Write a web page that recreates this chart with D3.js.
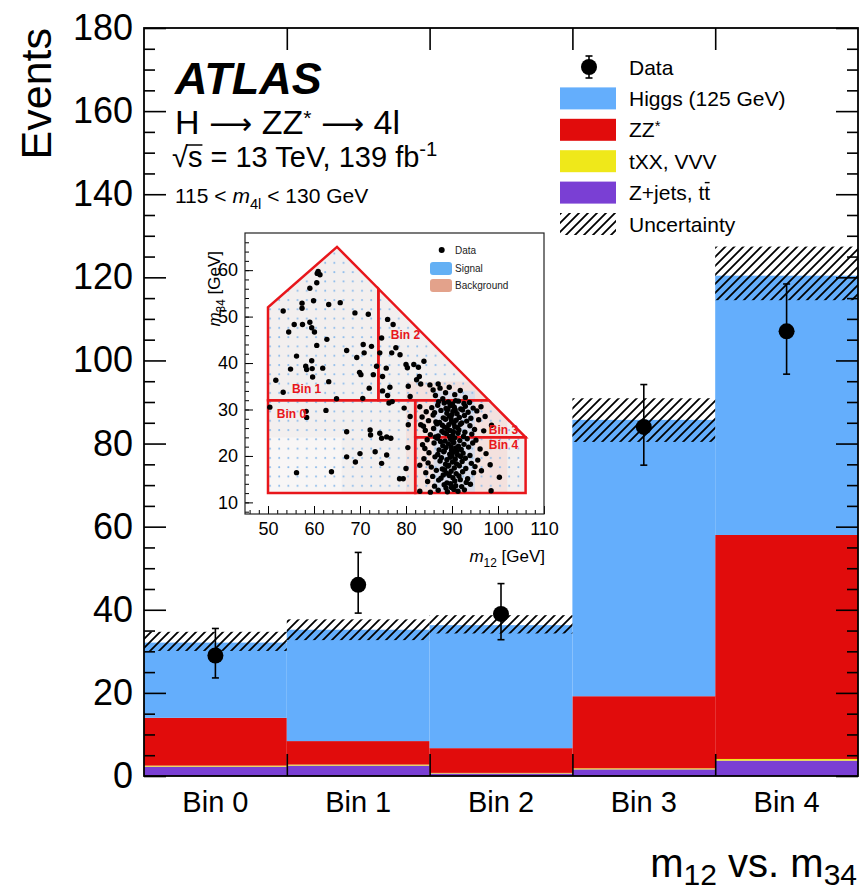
<!DOCTYPE html>
<html>
<head>
<meta charset="utf-8">
<script src="https://cdn.jsdelivr.net/npm/d3@7"></script>
<style>
  body { margin: 0; background: #fff; }
  svg { display: block; }
</style>
</head>
<body>
<svg id="chart" width="861" height="895"></svg>
<script>
// ---- Main histogram: events per m12 vs. m34 bin ----
const bins = ["Bin 0", "Bin 1", "Bin 2", "Bin 3", "Bin 4"];
const zjets = [2.25, 2.5, 0.6, 1.6, 3.7];      // Z+jets, ttbar
const txx   = [0.25, 0.25, 0.15, 0.25, 0.4];   // tXX, VVV
const zz    = [11.5, 5.65, 5.95, 17.35, 53.9]; // ZZ*
const higgs = [18.1, 26.8, 29.6, 66.5, 62.4];  // Higgs (125 GeV)
const uncUp   = [2.6, 2.5, 2.4, 5.2, 7.0];
const uncDown = [2.0, 2.5, 2.0, 5.3, 5.9];
const dataVals = [29, 46, 39, 84, 107];
const errUp    = [6.5, 7.8, 7.3, 10.2, 11.4];
const errDown  = [5.4, 6.8, 6.2, 9.2, 10.3];
const yTicks = [0, 20, 40, 60, 80, 100, 120, 140, 160, 180];

const legendLabels = ["Data", "Higgs (125 GeV)", "ZZ*", "tXX, VVV", "Z+jets, tt", "Uncertainty"];

// ---- Inset: m34 vs m12 plane with the bin definitions ----
const insetXTicks = [50, 60, 70, 80, 90, 100, 110];
const insetYTicks = [10, 20, 30, 40, 50, 60];
const binRegions = [
  { name: "Bin 0", pts: [[50, 12], [82, 12], [82, 32], [50, 32]], lab: [51.9, 28.2] },
  { name: "Bin 1", pts: [[50, 32], [74, 32], [74, 56], [65, 65], [50, 52]], lab: [55.2, 33.6] },
  { name: "Bin 2", pts: [[74, 32], [98, 32], [74, 56]], lab: [76.7, 45.1] },
  { name: "Bin 3", pts: [[82, 24], [106, 24], [98, 32], [82, 32]], lab: [98.0, 24.7] },
  { name: "Bin 4", pts: [[82, 12], [106, 12], [106, 24], [82, 24]], lab: [98.0, 21.5] }
];
const outline = [[50, 12], [106, 12], [106, 24], [65, 65], [50, 52]];

// measured events (m12, m34) in GeV
const events = [
  [60.7,59.3],[60.9,59.7],[61.3,59.0],[60.6,57.3],[59.1,56.1],[59.9,53.4],[57.4,52.9],[57.4,51.8],
  [53.3,51.2],[63.2,52.6],[65.7,53.0],[68.9,50.8],[71.8,50.5],[55.7,48.3],[54.5,46.7],[57.5,48.3],
  [59.1,48.8],[59.5,47.6],[60.1,46.7],[60.6,43.8],[62.8,45.1],[56.2,41.5],[54.9,38.7],[59.5,40.5],
  [58.2,39.3],[58.4,38.6],[59.6,38.8],[61.9,38.9],[59.7,37.0],[63.2,36.0],[51.7,36.3],[53.3,33.7],
  [67.1,42.7],[69.3,41.2],[70.7,44.0],[70.9,42.2],[72.5,43.6],[69.9,38.0],[70.2,37.5],[72.9,37.5],
  [72.0,34.6],[70.6,32.4],[64.9,32.3],[74.7,45.4],[76.0,49.4],[77.2,48.3],[74.3,42.2],[76.9,42.2],
  [77.8,43.3],[78.7,41.8],[73.6,39.3],[75.7,38.9],[74.9,37.1],[76.5,34.8],[76.0,33.0],[74.9,34.0],
  [77.0,31.7],[76.3,31.4],[80.0,39.7],[80.3,39.0],[81.7,39.7],[82.7,39.1],[83.9,40.4],[82.3,36.4],
  [82.9,37.1],[80.5,35.0],[83.2,35.5],[85.2,35.3],[85.9,34.2],[87.0,35.5],[87.4,34.6],[80.9,32.8],
  [79.6,30.3],[80.9,28.5],[80.5,26.7],[80.4,21.8],[80.0,17.3],[78.6,15.1],[79.4,15.1],[75.8,24.1],
  [76.7,23.8],[74.7,23.8],[74.3,24.9],[73.3,20.9],[75.8,20.2],[74.7,18.4],[70.0,20.5],[67.1,19.8],
  [69.0,18.7],[67.1,25.2],[72.2,25.6],[72.3,24.5],[56.2,16.4],[63.8,16.6],[50.4,30.5],[58.3,29.6],
  [58.4,28.3],[62.6,29.8],[83.0,30.6],[83.2,26.7],[83.0,18.0],[83.0,12.4],
  [88.6,33.6],[89.4,34.8],[90.6,33.2],[91.8,34.1],[86.4,33.0],[92.9,32.6],[88.0,32.3],
  // m34 24-32
  [89.2,31.6],[90.1,31.2],[91.4,31.8],[88.3,31.4],[92.6,31.3],[87.1,31.7],[93.8,31.5],[90.8,31.9],
  [85.6,30.4],[88.7,30.2],[89.6,30.8],[90.5,30.5],[91.9,30.1],[92.9,30.7],[94.6,30.3],[86.9,30.9],[96.3,30.6],[89.1,30.0],
  [84.4,29.5],[87.6,29.8],[88.9,29.2],[90.2,29.6],[91.1,29.1],[92.3,29.9],[93.5,29.4],[95.4,29.7],[90.7,29.9],[86.2,29.3],
  [83.5,28.4],[85.9,28.8],[88.1,28.2],[89.4,28.6],[90.0,28.9],[91.6,28.3],[92.7,28.7],[94.1,28.1],[97.2,28.5],[89.8,28.0],
  [84.9,27.6],[87.3,27.2],[88.6,27.9],[89.9,27.4],[90.9,27.7],[92.1,27.1],[93.2,27.5],[95.8,27.8],[90.4,27.0],[86.5,27.3],
  [83.8,26.4],[86.7,26.9],[88.4,26.2],[89.3,26.7],[90.6,26.3],[91.8,26.8],[93.9,26.5],[98.6,26.6],[91.2,26.1],[87.9,26.6],
  [84.2,25.5],[86.0,25.9],[87.8,25.3],[89.0,25.8],[90.3,25.2],[91.5,25.6],[92.8,25.1],[94.9,25.7],[96.9,25.4],[89.6,25.5],[88.2,25.0],
  [85.3,24.6],[87.0,24.3],[88.8,24.8],[90.1,24.4],[91.3,24.9],[92.5,24.2],[94.3,24.7],[86.4,24.1],[89.5,24.2],
  // m34 12-24
  [84.6,23.5],[86.8,23.8],[88.5,23.2],[89.7,23.6],[90.6,23.9],[91.7,23.3],[93.3,23.7],[95.2,23.4],[87.5,23.1],[90.2,23.0],
  [83.6,22.4],[86.1,22.8],[88.0,22.2],[89.2,22.6],[90.4,22.9],[91.4,22.1],[92.6,22.5],[94.5,22.8],[89.8,22.0],
  [84.1,21.6],[87.2,21.3],[88.7,21.8],[89.9,21.2],[90.8,21.7],[92.0,21.4],[93.6,21.9],[96.1,21.5],[88.3,21.1],[91.1,21.0],
  [85.0,20.7],[86.9,20.3],[88.2,20.9],[89.5,20.4],[90.3,20.8],[91.2,20.2],[92.4,20.6],[93.9,20.1],[97.4,20.5],[90.0,20.0],
  [83.9,19.4],[86.3,19.8],[88.9,19.2],[89.6,19.7],[90.7,19.3],[91.9,19.9],[92.9,19.5],[95.6,19.1],[87.7,19.6],
  [84.8,18.5],[87.4,18.9],[88.6,18.2],[90.1,18.7],[91.0,18.3],[92.2,18.8],[94.2,18.4],[98.3,18.1],[89.3,18.0],
  [85.5,17.6],[87.9,17.2],[89.1,17.8],[90.5,17.4],[91.6,17.9],[93.0,17.3],[95.0,17.7],[88.4,17.0],
  [84.3,16.4],[86.6,16.9],[88.8,16.3],[89.8,16.7],[90.9,16.2],[92.3,16.6],[94.7,16.4],[96.4,16.8],
  [85.8,15.6],[87.6,15.2],[89.4,15.8],[90.2,15.3],[91.5,15.7],[93.4,15.1],[88.1,15.9],[100.3,15.4],
  [84.7,14.5],[87.1,14.8],[88.9,14.2],[90.6,14.6],[91.8,14.9],[93.1,14.3],[89.7,14.0],
  [86.2,13.5],[88.3,13.8],[89.9,13.2],[90.8,13.6],[92.1,13.4],[94.0,13.9],[88.7,13.1],
  [87.0,12.6],[89.0,12.3],[90.4,12.8],[91.3,12.4],[92.7,12.7],[98.5,12.5],[85.3,12.2]
];

const FONT = '"Liberation Sans", Arial, Helvetica, sans-serif';
const colors = { zjets: "#7a3fd4", txx: "#efe81a", zz: "#e10c0c", higgs: "#64aefc" };
const keys = ["zjets", "txx", "zz", "higgs"];

const svg = d3.select("#chart");
const frame = { l: 144, r: 858, t: 28, b: 776 };

const x = d3.scaleBand().domain(bins).range([frame.l, frame.r]).padding(0);
const xEdge = d3.scaleLinear().domain([0, bins.length]).range([frame.l, frame.r]);
const y = d3.scaleLinear().domain([0, 180]).range([frame.b, frame.t]);

// rich text helper: parts are strings or {t, italic, sub, sup, family, fsize}
function richText(parent, px, py, parts, size, opts = {}) {
  const t = parent.append("text")
    .attr("x", px).attr("y", py)
    .attr("font-family", FONT).attr("font-size", size)
    .attr("fill", opts.fill || "#000");
  if (opts.anchor) t.attr("text-anchor", opts.anchor);
  if (opts.weight) t.attr("font-weight", opts.weight);
  if (opts.style) t.attr("font-style", opts.style);
  if (opts.transform) t.attr("transform", opts.transform);
  const subShift = opts.subShift != null ? opts.subShift : 0.28;
  const supShift = opts.supShift != null ? opts.supShift : 0.38;
  let shift = 0;
  parts.forEach(p => {
    const s = typeof p === "string" ? { t: p } : p;
    const ts = t.append("tspan").text(s.t);
    let target = 0;
    if (s.sub) target = size * subShift;
    if (s.sup) target = -size * supShift;
    if (target !== shift) { ts.attr("dy", target - shift); shift = target; }
    if (s.sub || s.sup) ts.attr("font-size", size * (s.scale || 0.7));
    if (s.fsize) ts.attr("font-size", s.fsize);
    if (s.family) ts.attr("font-family", s.family);
    if (s.italic) ts.attr("font-style", "italic");
  });
  return t;
}

const defs = svg.append("defs");
const hatch = defs.append("pattern").attr("id", "hatch")
  .attr("patternUnits", "userSpaceOnUse").attr("width", 9).attr("height", 9);
hatch.append("path")
  .attr("d", "M-2,2 L2,-2 M0,9 L9,0 M7,11 L11,7")
  .attr("stroke", "#000").attr("stroke-width", 1.8);

// stacked backgrounds and signal
const table = bins.map((b, i) => ({ bin: b, zjets: zjets[i], txx: txx[i], zz: zz[i], higgs: higgs[i] }));
const series = d3.stack().keys(keys)(table);
svg.append("g").selectAll("g").data(series).join("g")
  .attr("fill", d => colors[d.key])
  .selectAll("rect").data(d => d).join("rect")
  .attr("x", d => x(d.data.bin)).attr("width", x.bandwidth())
  .attr("y", d => y(d[1])).attr("height", d => y(d[0]) - y(d[1]));

// total prediction uncertainty band
const totals = table.map(d => keys.reduce((s, k) => s + d[k], 0));
svg.append("g").selectAll("rect").data(bins).join("rect")
  .attr("x", b => x(b)).attr("width", x.bandwidth())
  .attr("y", (b, i) => y(totals[i] + uncUp[i]))
  .attr("height", (b, i) => y(totals[i] - uncDown[i]) - y(totals[i] + uncUp[i]))
  .attr("fill", "url(#hatch)");

// axes (ticks pointing inward, mirrored on the opposite side)
function styleAxis(g) {
  g.select(".domain").remove();
  g.selectAll(".tick line").attr("stroke", "#000").attr("stroke-width", 1.6);
  g.attr("font-family", FONT);
}
const minorY = d3.range(0, 181, 5).filter(v => v % 20 !== 0);

svg.append("g").attr("transform", `translate(${frame.l},0)`)
  .call(d3.axisLeft(y).tickValues(yTicks).tickSize(-22).tickPadding(11))
  .call(styleAxis)
  .call(g => g.selectAll("text").attr("font-size", 36).attr("fill", "#000"));
svg.append("g").attr("transform", `translate(${frame.l},0)`)
  .call(d3.axisLeft(y).tickValues(minorY).tickSize(-11).tickFormat(""))
  .call(styleAxis);
svg.append("g").attr("transform", `translate(${frame.r},0)`)
  .call(d3.axisRight(y).tickValues(yTicks).tickSize(-22).tickFormat(""))
  .call(styleAxis);
svg.append("g").attr("transform", `translate(${frame.r},0)`)
  .call(d3.axisRight(y).tickValues(minorY).tickSize(-11).tickFormat(""))
  .call(styleAxis);

const edges = d3.range(1, bins.length);
svg.append("g").attr("transform", `translate(0,${frame.b})`)
  .call(d3.axisBottom(xEdge).tickValues(edges).tickSize(-22).tickFormat(""))
  .call(styleAxis);
svg.append("g").attr("transform", `translate(0,${frame.t})`)
  .call(d3.axisTop(xEdge).tickValues(edges).tickSize(-22).tickFormat(""))
  .call(styleAxis);
svg.append("g").attr("transform", `translate(0,${frame.b})`)
  .call(d3.axisBottom(x).tickSize(0).tickPadding(15))
  .call(styleAxis)
  .call(g => g.selectAll("text").attr("font-size", 29).attr("fill", "#000"));

svg.append("rect")
  .attr("x", frame.l).attr("y", frame.t)
  .attr("width", frame.r - frame.l).attr("height", frame.b - frame.t)
  .attr("fill", "none").attr("stroke", "#000").attr("stroke-width", 1.8);

// data points with Poisson error bars
const dg = svg.append("g");
bins.forEach((b, i) => {
  const cx = x(b) + x.bandwidth() / 2;
  const y1 = y(dataVals[i] + errUp[i]), y0 = y(dataVals[i] - errDown[i]);
  dg.append("line").attr("x1", cx).attr("x2", cx).attr("y1", y1).attr("y2", y0)
    .attr("stroke", "#000").attr("stroke-width", 1.6);
  [y1, y0].forEach(v => dg.append("line").attr("x1", cx - 3.5).attr("x2", cx + 3.5)
    .attr("y1", v).attr("y2", v).attr("stroke", "#000").attr("stroke-width", 1.6));
  dg.append("circle").attr("cx", cx).attr("cy", y(dataVals[i])).attr("r", 8).attr("fill", "#000");
});

// axis titles
richText(svg, 0, 0, ["Events"], 43, { anchor: "end", transform: "translate(51,28) rotate(-90)" });
richText(svg, 857, 877, ["m", { t: "12", sub: true, scale: 0.75 }, " vs. m", { t: "34", sub: true, scale: 0.75 }], 40,
  { anchor: "end", subShift: 0.2 });

// ATLAS label block
const ARROW = { t: " \u27F6 ", family: '"DejaVu Sans", sans-serif', fsize: 30 };
richText(svg, 175, 94, ["ATLAS"], 45, { weight: "bold", style: "italic" });
richText(svg, 175, 134, ["H", ARROW, "ZZ", { t: "*", sup: true, scale: 0.62 }, ARROW, "4l"], 34, { supShift: 0.26 });
const sq = richText(svg, 172, 167, ["\u221A"], 29);
const sqW = sq.node().getComputedTextLength();
const sT = richText(svg, 172 + sqW, 167, ["s"], 29);
const sW = sT.node().getComputedTextLength();
svg.append("line").attr("x1", 172 + sqW - 1).attr("x2", 172 + sqW + sW)
  .attr("y1", 145).attr("y2", 145).attr("stroke", "#000").attr("stroke-width", 1.5);
richText(svg, 172 + sqW + sW, 167, ["\u00A0= 13 TeV, 139 fb", { t: "-1", sup: true }], 29);
richText(svg, 175, 203, ["115 < ", { t: "m", italic: true }, { t: "4l", sub: true }, " < 130 GeV"], 21);

// legend
const lg = svg.append("g");
const rowY = i => 67 + i * 31.4;
const legendFill = [null, colors.higgs, colors.zz, colors.txx, colors.zjets, "url(#hatch)"];
legendLabels.forEach((lab, i) => {
  const cy = rowY(i);
  if (i === 0) {
    lg.append("line").attr("x1", 589).attr("x2", 589).attr("y1", cy - 11).attr("y2", cy + 11)
      .attr("stroke", "#000").attr("stroke-width", 1.6);
    [cy - 11, cy + 11].forEach(v => lg.append("line").attr("x1", 585.5).attr("x2", 592.5)
      .attr("y1", v).attr("y2", v).attr("stroke", "#000").attr("stroke-width", 1.6));
    lg.append("circle").attr("cx", 589).attr("cy", cy).attr("r", 8).attr("fill", "#000");
  } else {
    lg.append("rect").attr("x", 560).attr("y", cy - 11).attr("width", 56).attr("height", 22)
      .attr("fill", legendFill[i]);
  }
  let parts = [lab];
  if (lab === "ZZ*") parts = ["ZZ", { t: "*", sup: true }];
  const t = richText(lg, 629, cy + 7.5, parts, 21, { supShift: 0.3 });
  if (lab === "Z+jets, tt") {
    // bar over the anti-top
    const full = t.node().getComputedTextLength();
    const tmp = richText(lg, 0, -100, ["t"], 21);
    const tw = tmp.node().getComputedTextLength();
    tmp.remove();
    lg.append("line").attr("x1", 629 + full - tw + 0.5).attr("x2", 629 + full - 0.5)
      .attr("y1", cy - 10).attr("y2", cy - 10).attr("stroke", "#000").attr("stroke-width", 1.4);
  }
});

// ---- inset ----
const ix = d3.scaleLinear().domain([45, 110]).range([245, 544]);
const iy = d3.scaleLinear().domain([7.5, 68]).range([514, 233]);
const inset = svg.append("g");
inset.append("rect").attr("x", 245).attr("y", 233).attr("width", 299).attr("height", 281)
  .attr("fill", "#fff");

const poly = pts => pts.map(p => [ix(p[0]), iy(p[1])].join(",")).join(" ");
defs.append("clipPath").attr("id", "region").append("polygon").attr("points", poly(outline));
const dots = defs.append("pattern").attr("id", "dotgrid").attr("patternUnits", "userSpaceOnUse")
  .attr("x", ix(50)).attr("y", iy(12))
  .attr("width", ix(52) - ix(50)).attr("height", iy(12) - iy(14));
dots.append("circle").attr("cx", 2).attr("cy", 2).attr("r", 1).attr("fill", "#8dbbea");

const shade = inset.append("g").attr("clip-path", "url(#region)");
shade.append("polygon").attr("points", poly(outline)).attr("fill", "#f2efef");
shade.append("rect").attr("x", ix(50)).attr("y", iy(24)).attr("width", ix(66) - ix(50)).attr("height", iy(12) - iy(24))
  .attr("fill", "#f8f6f6");
shade.append("rect").attr("x", ix(80)).attr("y", iy(36)).attr("width", ix(102) - ix(80)).attr("height", iy(12) - iy(36))
  .attr("fill", "#f3dcd7").attr("opacity", 0.7);
shade.append("rect").attr("x", ix(86)).attr("y", iy(34)).attr("width", ix(95) - ix(86)).attr("height", iy(12) - iy(34))
  .attr("fill", "#c9d9f0").attr("opacity", 0.6);
shade.append("polygon").attr("points", poly(outline)).attr("fill", "url(#dotgrid)");

inset.append("g").selectAll("polygon").data(binRegions).join("polygon")
  .attr("points", d => poly(d.pts))
  .attr("fill", "none").attr("stroke", "#e8161b").attr("stroke-width", 2.5)
  .attr("stroke-linejoin", "miter");

inset.append("g").selectAll("circle").data(events).join("circle")
  .attr("cx", d => ix(d[0])).attr("cy", d => iy(d[1])).attr("r", 2.7).attr("fill", "#000");

inset.append("g").selectAll("text").data(binRegions).join("text")
  .attr("x", d => ix(d.lab[0])).attr("y", d => iy(d.lab[1]))
  .attr("font-family", FONT).attr("font-size", 12).attr("font-weight", "bold")
  .attr("fill", "#e8161b").text(d => d.name);

// inset legend
inset.append("circle").attr("cx", 441.7).attr("cy", 250).attr("r", 3).attr("fill", "#000");
inset.append("rect").attr("x", 430).attr("y", 262).attr("width", 22).attr("height", 13).attr("rx", 3).attr("fill", "#64b0f4");
inset.append("rect").attr("x", 430).attr("y", 279).attr("width", 22).attr("height", 13).attr("rx", 3).attr("fill", "#e3a28b");
[["Data", 253.5], ["Signal", 272], ["Background", 289]].forEach(([t, yy]) =>
  richText(inset, 455, yy, [t], 10, { fill: "#222" }));

// inset axes
const minorIX = d3.range(46, 111, 2);
const minorIY = d3.range(8, 68, 2);
inset.append("g").attr("transform", "translate(0,514)")
  .call(d3.axisBottom(ix).tickValues(insetXTicks).tickSize(-8).tickPadding(8))
  .call(styleAxis)
  .call(g => g.selectAll(".tick line").attr("stroke-width", 1))
  .call(g => g.selectAll("text").attr("font-size", 18).attr("fill", "#000"));
inset.append("g").attr("transform", "translate(0,514)")
  .call(d3.axisBottom(ix).tickValues(minorIX).tickSize(-4).tickFormat(""))
  .call(styleAxis).call(g => g.selectAll(".tick line").attr("stroke-width", 1));
inset.append("g").attr("transform", "translate(245,0)")
  .call(d3.axisLeft(iy).tickValues(insetYTicks).tickSize(-8).tickPadding(7))
  .call(styleAxis)
  .call(g => g.selectAll(".tick line").attr("stroke-width", 1))
  .call(g => g.selectAll("text").attr("font-size", 18).attr("fill", "#000"));
inset.append("g").attr("transform", "translate(245,0)")
  .call(d3.axisLeft(iy).tickValues(minorIY).tickSize(-4).tickFormat(""))
  .call(styleAxis).call(g => g.selectAll(".tick line").attr("stroke-width", 1));
inset.append("rect").attr("x", 245).attr("y", 233).attr("width", 299).attr("height", 281)
  .attr("fill", "none").attr("stroke", "#222").attr("stroke-width", 1.2);

richText(inset, 545, 562, [{ t: "m", italic: true }, { t: "12", sub: true }, " [GeV]"], 17, { anchor: "end" });
richText(inset, 0, 0, [{ t: "m", italic: true }, { t: "34", sub: true }, " [GeV]"], 17,
  { anchor: "end", transform: "translate(220,251) rotate(-90)" });
</script>
</body>
</html>
